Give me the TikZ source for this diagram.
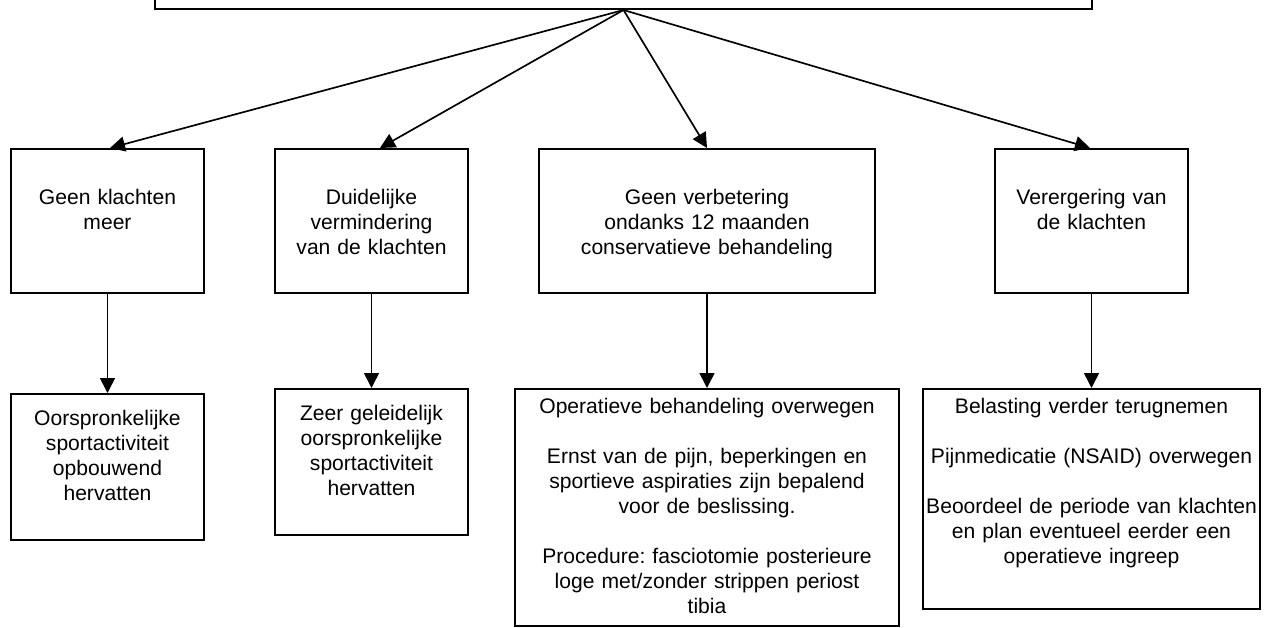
\documentclass[tikz,border=0pt]{standalone}
\usepackage{fontspec}
\setmainfont{Liberation Sans}
\usetikzlibrary{arrows.meta}
\frenchspacing

\begin{document}
\begin{tikzpicture}[
  font=\fontsize{12}{14.2}\selectfont,
  box/.style={draw,line width=0.9pt,anchor=north,align=center,
    inner xsep=0pt,text height=0.3cm},
  upper/.style={box,inner ysep=0.82cm,text depth=0.94cm},
  lower/.style={box,inner ysep=0.34cm,text depth=1.94cm},
  advice/.style={box,inner ysep=0.2cm},
  arr/.style={-{Triangle[length=0.3cm,width=0.3cm]},line width=0.95pt}]

% Page frame, 1270 x 628 px at 0.02 cm per px.
\useasboundingbox (0,0) rectangle (25.4,-12.56);
\clip (0,0) rectangle (25.4,-12.56);

% Top box, cut off by the page edge.
\node[draw,line width=0.9pt,anchor=south,minimum width=18.74cm,
  minimum height=1cm] (top) at (12.47,-0.2) {};

% Course of the complaints.
\node[upper,text width=3.86cm] (geen) at (2.15,-2.96)
  {Geen klachten\\meer};
\node[upper,text width=3.86cm] (dui) at (7.43,-2.96)
  {Duidelijke\\vermindering\\van de klachten};
\node[upper,text width=6.72cm] (verb) at (14.14,-2.96)
  {Geen verbetering\\ondanks 12 maanden\\conservatieve behandeling};
\node[upper,text width=3.86cm] (verg) at (21.83,-2.96)
  {Verergering van\\de klachten};

% Advice per course.
\node[lower,text width=3.86cm] (hervat) at (2.15,-7.86)
  {Oorspronkelijke\\sportactiviteit\\opbouwend\\hervatten};
\node[lower,text width=3.86cm] (zeer) at (7.43,-7.76)
  {Zeer geleidelijk\\oorspronkelijke\\sportactiviteit\\hervatten};
\node[advice,text width=7.68cm,text depth=4.04cm] (oper) at (14.14,-7.76)
  {Operatieve behandeling overwegen\\[14.2pt]
   Ernst van de pijn, beperkingen en\\sportieve aspiraties zijn bepalend\\voor de beslissing.\\[14.2pt]
   Procedure: fasciotomie posterieure\\loge met/zonder strippen periost\\tibia};
\node[advice,text width=6.74cm,text depth=3.7cm] (belast) at (21.83,-7.76)
  {Belasting verder terugnemen\\[14.2pt]
   Pijnmedicatie (NSAID) overwegen\\[14.2pt]
   Beoordeel de periode van klachten\\en plan eventueel eerder een\\operatieve ingreep};

% Fan from the top box.
\draw[arr] (top.south) -- ([xshift=0.05cm]geen.north);
\draw[arr] (top.south) -- ([xshift=0.17cm]dui.north);
\draw[arr] (top.south) -- (verb.north);
\draw[arr] (top.south) -- ([xshift=-0.03cm]verg.north);

% Straight down to the advice.
\draw[arr] (geen) -- (hervat);
\draw[arr] (dui) -- (zeer);
\draw[arr] (verb) -- (oper);
\draw[arr] (verg) -- (belast);
\end{tikzpicture}
\end{document}
